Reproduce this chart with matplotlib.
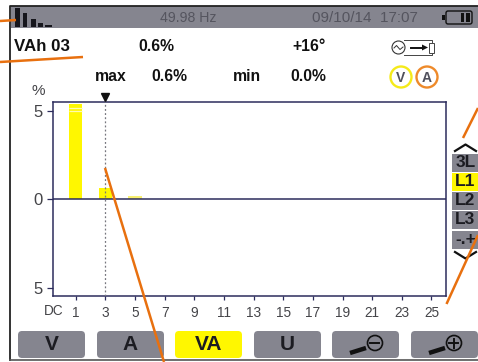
import matplotlib
matplotlib.use("Agg")
import matplotlib.pyplot as plt
from matplotlib.patches import FancyBboxPatch, Rectangle, Circle, Polygon

plt.rcParams['font.family'] = ['Liberation Sans', 'DejaVu Sans']

# --- data ---
orders = [1, 3, 5]
values = [5.35, 0.6, 0.18]
bar_colors = ['#fff700', '#fff700', '#f8f070']
stripe_levels = [4.95, 5.15]
cursor_order = 3
x_ticks = [1, 3, 5, 7, 9, 11, 13, 15, 17, 19, 21, 23, 25]
y_ticks = [5, 0, -5]
y_labels = ['5', '0', '5']
bottom_labels = ['V', 'A', 'VA', 'U']
side_labels = ['3L', 'L1', 'L2', 'L3', '-.+']
frequency = '49.98 Hz'
stamp = '09/10/14  17:07'

W, H = 478, 362
fig = plt.figure(figsize=(W / 100, H / 100), dpi=100, facecolor='white')

# pixel overlay, y pointing down
bg = fig.add_axes([0, 0, 1, 1], zorder=0)
bg.set_xlim(0, W); bg.set_ylim(H, 0); bg.axis('off')

GREY = '#85858f'
DARK = '#1c1c22'
NAVY = '#2c2c5c'
ORANGE = '#e8700f'
TXT = '#444448'

# screen frame and status bar
bg.add_patch(Rectangle((11, 6), W - 11, 22, fc=GREY, ec='none'))
bg.plot([10.5, 10.5, W], [360, 5.5, 5.5], color='#222222', lw=1.3)
bg.plot([10, W], [360, 360], color='#555555', lw=1.2)

# harmonic icon
for x, w, y in [(15, 5, 8), (23, 4, 13), (31, 5, 19), (38.5, 4.5, 23), (45, 7, 24.5)]:
    bg.add_patch(Rectangle((x, y), w, 26.5 - y, fc='#16161c', ec='none'))

bg.text(188, 17.5, frequency, ha='center', va='center', fontsize=10.2, color='#55555f')
bg.text(365, 17.5, stamp, ha='center', va='center', fontsize=11, color='#55555f')

# battery icon
bg.add_patch(FancyBboxPatch((446, 11), 26, 13, boxstyle='round,pad=0,rounding_size=2',
                            fc='none', ec='#111111', lw=1))
bg.add_patch(Rectangle((442.5, 15), 2.5, 5, fc='#111111', ec='none'))
bg.add_patch(Rectangle((461, 13), 3.5, 9, fc='#111111', ec='none'))
bg.add_patch(Rectangle((466.5, 13), 3.5, 9, fc='#111111', ec='none'))

# readout rows
FS = 11.3
bg.text(14, 46.5, 'VAh 03', ha='left', va='center', fontsize=12.2, fontweight='bold', color='#111111')
bg.text(156.5, 46.5, '0.6%', ha='center', va='center', fontsize=FS, fontweight='bold', color='#111111')
bg.text(309, 46.5, '+16°', ha='center', va='center', fontsize=FS, fontweight='bold', color='#111111')
bg.text(111, 76.5, 'max', ha='center', va='center', fontsize=FS, fontweight='bold', color='#111111')
bg.text(169, 76.5, '0.6%', ha='center', va='center', fontsize=FS, fontweight='bold', color='#111111')
bg.text(247, 76.5, 'min', ha='center', va='center', fontsize=FS, fontweight='bold', color='#111111')
bg.text(308, 76.5, '0.0%', ha='center', va='center', fontsize=FS, fontweight='bold', color='#111111')
bg.text(38, 91, '%', ha='center', va='center', fontsize=11, color=TXT)
bg.text(53.5, 310.7, 'DC', ha='center', va='center', fontsize=9.8, color=TXT)

# source/load icon
bg.add_patch(Circle((398.5, 47.5), 6.5, fc='white', ec='#333333', lw=0.8))
bg.plot([394, 396.5, 400, 403], [48, 45.5, 49.5, 47], color='#333333', lw=0.7)
bg.plot([404, 432, 432], [39.5, 39.5, 42], color='#444444', lw=0.7)
bg.plot([404, 432, 432], [55, 55, 52.5], color='#444444', lw=0.7)
bg.plot([411, 423], [47.5, 47.5], color='#111111', lw=1.4)
bg.add_patch(Polygon([[422, 44.5], [428, 47.5], [422, 50.5]], fc='#111111', ec='none'))
bg.add_patch(Rectangle((429.5, 42.5), 5, 10, fc='white', ec='#444444', lw=0.7))

# V / A badges
bg.add_patch(Circle((401, 77), 10.5, fc='white', ec='#f5ea1a', lw=1.7))
bg.add_patch(Circle((427, 77), 10.5, fc='white', ec='#ee8a2a', lw=1.7))
bg.text(401, 77.5, 'V', ha='center', va='center', fontsize=10, fontweight='bold', color='#50505c')
bg.text(427, 77.5, 'A', ha='center', va='center', fontsize=10, fontweight='bold', color='#50505c')

# bottom buttons
for x0, label in zip([18, 97, 175, 254], bottom_labels):
    fc = '#fff700' if label == 'VA' else GREY
    bg.add_patch(FancyBboxPatch((x0, 331), 67, 27, boxstyle='round,pad=0,rounding_size=4', fc=fc, ec='none'))
    bg.text(x0 + 33.5, 345, label, ha='center', va='center', fontsize=15, fontweight='bold', color=DARK)
for x0, sign in [(332, '-'), (411, '+')]:
    bg.add_patch(FancyBboxPatch((x0, 331), 67, 27, boxstyle='round,pad=0,rounding_size=4', fc=GREY, ec='none'))
    bg.plot([x0 + 18, x0 + 34], [353, 348], color='#111111', lw=3.2, solid_capstyle='butt')
    bg.add_patch(Circle((x0 + 43, 343), 7.5, fc=GREY, ec='#111111', lw=1.2))
    bg.plot([x0 + 38.5, x0 + 47.5], [343, 343], color='#111111', lw=1.4)
    if sign == '+':
        bg.plot([x0 + 43, x0 + 43], [338.5, 347.5], color='#111111', lw=1.4)

# side selector
for y0, label in zip([154, 173, 192, 211, 231], side_labels):
    fc = '#fff700' if label == 'L1' else GREY
    bg.add_patch(Rectangle((452.5, y0), 26, 17.5, fc=fc, ec='none'))
    bg.text(465.5, y0 + 8.8, label, ha='center', va='center', fontsize=12.5, fontweight='bold', color=DARK)
bg.plot([455, 465.5, 476], [151, 144.5, 151], color='#111111', lw=1.6)
bg.plot([455, 465.5, 476], [252, 258.5, 252], color='#111111', lw=1.6)

# harmonic plot
ax = fig.add_axes([52.5 / W, 1 - 296 / H, (446 - 52.5) / W, (296 - 101.7) / H], zorder=1)
ax.set_xlim(-0.57, 25.98)
ax.set_ylim(-5.48, 5.5)
ax.bar(orders, values, width=0.9, color=bar_colors, zorder=2)
ax.hlines(stripe_levels, orders[0] - 0.45, orders[0] + 0.45, color='#fffbb0', lw=0.9, zorder=3)
ax.axhline(0, color=NAVY, lw=1.1, zorder=4)
ax.axvline(cursor_order, color='#77777f', lw=0.9, ls=(0, (1.5, 1.8)), zorder=5)
ax.set_xticks(x_ticks)
ax.set_xticklabels([str(t) for t in x_ticks])
ax.set_yticks(y_ticks)
ax.set_yticklabels(y_labels)
ax.tick_params(axis='x', length=3, width=0.9, color=NAVY, labelsize=9.8, labelcolor=TXT, pad=4.5)
ax.tick_params(axis='y', length=4, width=0.9, color=NAVY, labelsize=12, labelcolor=TXT, pad=3)
for s in ax.spines.values():
    s.set_color(NAVY)
    s.set_linewidth(1.1)
ax.plot([cursor_order], [5.78], marker='v', ms=5.5, color='#111111', clip_on=False, zorder=6)

# orange callout lines, on top
top = fig.add_axes([0, 0, 1, 1], zorder=5)
top.set_xlim(0, W); top.set_ylim(H, 0); top.axis('off'); top.patch.set_alpha(0)
for xs, ys in [([0, 16], [21, 20]), ([0, 83], [62, 57]), ([105, 164], [168, 362]),
               ([463, 478], [138, 108]), ([446.5, 478], [304, 235])]:
    top.plot(xs, ys, color=ORANGE, lw=1.8, solid_capstyle='butt')

fig.savefig('out.png', dpi=100)
